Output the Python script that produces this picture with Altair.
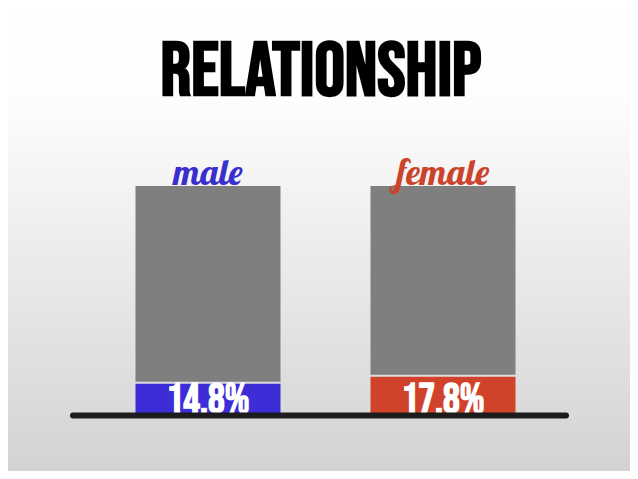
import altair as alt
import pandas as pd

# ---- data ----
categories = ["male", "female"]
percent = [14.8, 17.8]
totals = [100, 100]
bar_colors = ["#3c2dd6", "#d0432a"]
label_colors = ["#3a2fcc", "#cc432b"]
title_text = "RELATIONSHIP"

W, H = 622, 463

df = pd.DataFrame({"sex": categories, "pct": percent, "total": totals})

xscale = alt.Scale(domain=categories, range=[82.5, 552.5], paddingInner=0.383, paddingOuter=0.1915)
yscale = alt.Scale(domain=[0, 100], range=[410, 178])

x_enc = alt.X("sex:N", scale=xscale, axis=None, sort=categories)

background = alt.Chart(pd.DataFrame({"a": [0]})).mark_rect(
    color=alt.Gradient(
        gradient="linear", x1=0, x2=0, y1=0, y2=1,
        stops=[alt.GradientStop(color="#ffffff", offset=0),
               alt.GradientStop(color="#fdfdfd", offset=0.2),
               alt.GradientStop(color="#d3d3d3", offset=1)])
).encode(x=alt.value(0), x2=alt.value(W), y=alt.value(0), y2=alt.value(H))

base = alt.Chart(df)

gray = base.mark_bar(color="#7f7f7f", y2Offset=-2).encode(
    x=x_enc,
    y=alt.Y("total:Q", scale=yscale, axis=None),
    y2="pct:Q",
)

colored = base.mark_bar().encode(
    x=x_enc,
    y=alt.Y("pct:Q", scale=yscale, axis=None),
    y2=alt.datum(0),
    color=alt.Color("sex:N", scale=alt.Scale(domain=categories, range=bar_colors), legend=None),
)

pct_text = base.transform_calculate(
    label="format(datum.pct, '.1f') + '%'", zero="0"
).mark_text(
    font="Bebas Neue", fontSize=42, fontWeight="bold", color="white", baseline="alphabetic", dy=-5
).encode(
    x=x_enc,
    y=alt.Y("zero:Q", scale=yscale, axis=None),
    text="label:N",
)

name_text = base.mark_text(
    font="Lobster, Pacifico, Kaushan Script, Courgette, Lato", fontSize=36,
    baseline="alphabetic", dy=-1
).encode(
    x=x_enc,
    y=alt.Y("total:Q", scale=yscale, axis=None),
    text="sex:N",
    color=alt.Color("sex:N", scale=alt.Scale(domain=categories, range=label_colors), legend=None),
)

baseline_rule = alt.Chart(pd.DataFrame({"z": [0]})).mark_rule(
    color="#1c1c1c", strokeWidth=6, strokeCap="round", yOffset=-2.5
).encode(
    x=alt.value(65), x2=alt.value(558),
    y=alt.Y("z:Q", scale=yscale, axis=None),
)

title = alt.Chart(pd.DataFrame({"t": [title_text]})).mark_text(
    font="Bebas Neue", fontSize=76, fontWeight="bold", color="#000000", baseline="alphabetic"
).encode(text="t:N", x=alt.value(313), y=alt.value(87))

chart = alt.layer(background, gray, colored, pct_text, baseline_rule, name_text, title).resolve_scale(
    color="independent"
).properties(
    width=W, height=H, padding=0,
    autosize=alt.AutoSizeParams(type="none"),
).configure_view(stroke=None)

chart.save("out.html", embed_options={"renderer": "svg", "actions": False})
